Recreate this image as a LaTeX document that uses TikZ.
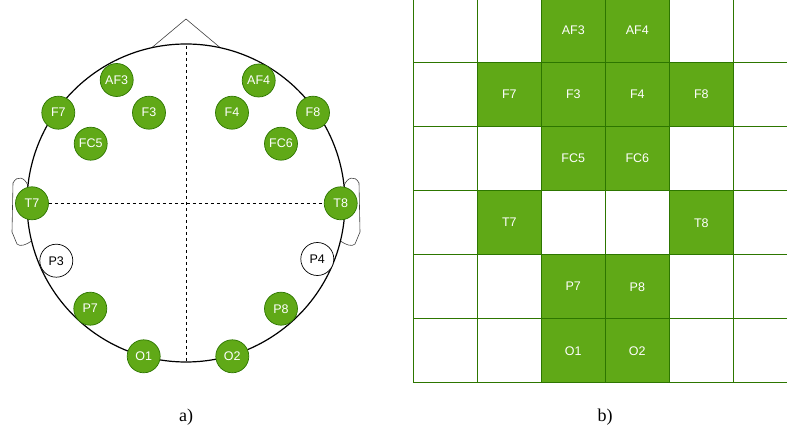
\documentclass[tikz,border=0pt]{standalone}
\usepackage{fontspec}
\setmainfont{Liberation Sans}
\newfontfamily\capserif{Liberation Serif}
\definecolor{egfill}{HTML}{60A917}
\definecolor{egline}{HTML}{2D7600}
\begin{document}
\begin{tikzpicture}[x=1pt,y=-1pt,
  elec/.style={circle, draw=egline, fill=egfill, text=white, minimum size=33pt, inner sep=0pt,
    font=\fontsize{12.5}{14}\selectfont, line width=0.7pt},
  elecoff/.style={elec, draw=black, fill=white, text=black},
  cellbox/.style={rectangle, draw=egline, fill=white, minimum size=64pt, inner sep=0pt,
    line width=1pt, text=white, font=\fontsize{12.5}{14}\selectfont},
  cellon/.style={cellbox, fill=egfill},
  headline/.style={line width=1.2pt, black},
  earline/.style={line width=0.6pt, black!75},
  guide/.style={dashed, dash pattern=on 3pt off 3pt, line width=0.8pt, black},
  caplabel/.style={font=\capserif\fontsize{18}{20}\selectfont}]
\useasboundingbox (0,0) rectangle (787,435);
\begin{scope}
\clip (0,0) rectangle (787,435);
% ---------- a) head ----------
\draw[earline] (152,47.5) -- (186,19) -- (220,47.5);
\draw[earline] (28,186) .. controls (25,177) and (17,175) .. (13,183) -- (12,232) -- (17,244)
  .. controls (20,247) and (26,245) .. (31.6,241);
\draw[earline] (344,186) .. controls (347,177) and (355,175) .. (359,183) -- (360,232) -- (355,244)
  .. controls (352,247) and (346,245) .. (340.4,241);
\draw[headline] (186,203) circle[radius=159];
\coordinate (top) at (186,46);
\coordinate (bot) at (186,362);
\draw[guide] (top) -- (bot);

\node[elec] (AF3) at (116.7,80) {AF3};
\node[elec] (AF4) at (258.7,80.5) {AF4};
\node[elec] (F7) at (58.3,112.7) {F7};
\node[elec] (F3) at (149,112.7) {F3};
\node[elec] (F4) at (232,112.7) {F4};
\node[elec] (F8) at (313,112.7) {F8};
\node[elec] (FC5) at (90.7,143.7) {FC5};
\node[elec] (FC6) at (281,143.7) {FC6};
\node[elec] (T7) at (32,203.3) {T7};
\node[elec] (T8) at (340.7,203.3) {T8};
\node[elecoff] (P3) at (56.3,260.7) {P3};
\node[elecoff] (P4) at (317.3,259) {P4};
\node[elec] (P7) at (90.3,308.7) {P7};
\node[elec] (P8) at (281,308.7) {P8};
\node[elec] (O1) at (143.7,356.3) {O1};
\node[elec] (O2) at (232.3,356.3) {O2};
\draw[guide] (T7) -- (T8);

% ---------- b) grid ----------
\foreach \r/\row in {0/{,,AF3,AF4,,}, 1/{,F7,F3,F4,F8,}, 2/{,,FC5,FC6,,}, 3/{,T7,,,T8,}, 4/{,,P7,P8,,}, 5/{,,O1,O2,,}}{
  \foreach [count=\ci from 0] \lab in \row {
    \ifx\lab\empty
      \node[cellbox] (g-\r-\ci) at ({445.3+64*\ci},{30.7+64*\r}) {};
    \else
      \node[cellon] (g-\r-\ci) at ({445.3+64*\ci},{30.7+64*\r}) {\lab};
    \fi
  }
}
\end{scope}

\node[caplabel] (capa) at (186,417) {a)};
\node[caplabel] (capb) at (605,417) {b)};
\end{tikzpicture}
\end{document}
